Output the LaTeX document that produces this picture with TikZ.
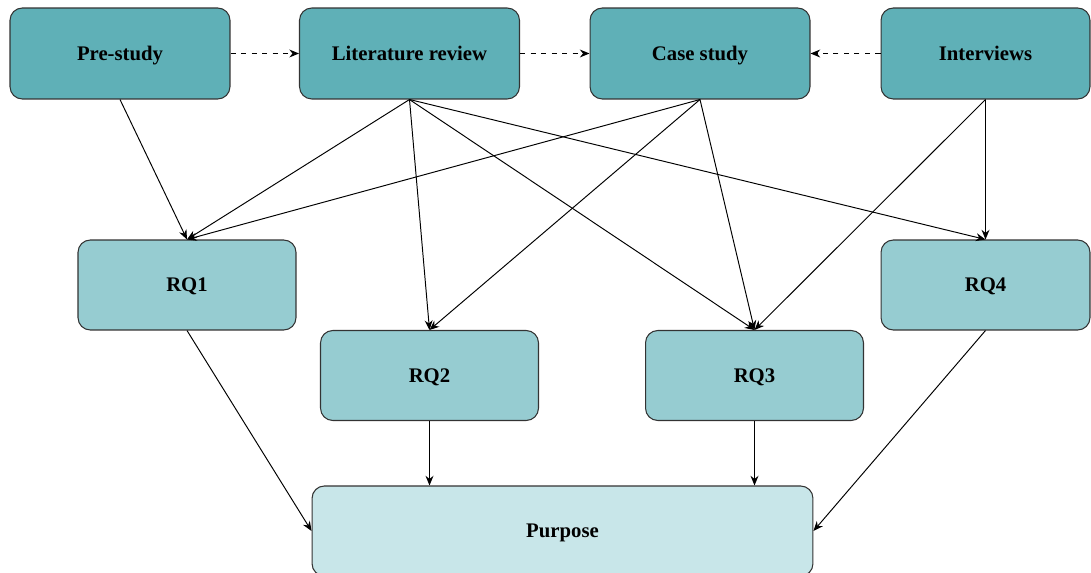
\documentclass[tikz,border=0pt]{standalone}
\usepackage{fontspec}
\setmainfont{Liberation Serif}
\usetikzlibrary{arrows.meta}

\tikzset{
  box/.style={draw=black!80, rounded corners=7pt, line width=0.6pt, font=\fontsize{11.8}{13}\selectfont\bfseries, inner sep=0pt, text height=2.1ex, text depth=0.45ex},
  topbox/.style={box, fill=topteal, minimum width=4.4cm, minimum height=1.82cm},
  rqbox/.style={box, fill=rqteal, minimum width=4.36cm, minimum height=1.8cm},
  arr/.style={-{Stealth[length=5.5pt,width=4.5pt]}, line width=0.55pt},
  dasharr/.style={arr, dashed}
}
\definecolor{topteal}{HTML}{5FB0B7}
\definecolor{rqteal}{HTML}{96CCD1}
\definecolor{purpteal}{HTML}{C8E6E9}

\begin{document}
\begin{tikzpicture}[x=0.02cm, y=-0.02cm]
  \useasboundingbox (0,0) rectangle (1091,573);
  % top row
  \node[topbox] (pre) at (120,53.5) {Pre-study};
  \node[topbox] (lit) at (409.5,53.5) {Literature review};
  \node[topbox] (case) at (700,53.5) {Case study};
  \node[topbox, minimum width=4.18cm] (inter) at (985.5,53.5) {Interviews};
  % research questions
  \node[rqbox] (rq1) at (187,285) {RQ1};
  \node[rqbox] (rq2) at (429.5,375.5) {RQ2};
  \node[rqbox] (rq3) at (754.5,375.5) {RQ3};
  \node[rqbox, minimum width=4.18cm] (rq4) at (985.5,285) {RQ4};
  \node[box, fill=purpteal, minimum width=10.02cm, minimum height=1.8cm] (purp) at (562.5,531) {Purpose};

  \draw[dasharr] (pre) -- (lit);
  \draw[dasharr] (lit) -- (case);
  \draw[dasharr] (inter) -- (case);

  \draw[arr] (pre.south) -- (rq1.north);
  \draw[arr] (lit.south) -- (rq1.north);
  \draw[arr] (lit.south) -- (rq2.north);
  \draw[arr] (lit.south) -- (rq3.north);
  \draw[arr] (lit.south) -- (rq4.north);
  \draw[arr] (case.south) -- (rq1.north);
  \draw[arr] (case.south) -- (rq2.north);
  \draw[arr] (case.south) -- (rq3.north);
  \draw[arr] (inter.south) -- (rq3.north);
  \draw[arr] (inter.south) -- (rq4.north);

  \draw[arr] (rq1.south) -- (purp.west);
  \draw[arr] (rq2.south) -- (rq2.south |- purp.north);
  \draw[arr] (rq3.south) -- (rq3.south |- purp.north);
  \draw[arr] (rq4.south) -- (purp.east);
\end{tikzpicture}
\end{document}
